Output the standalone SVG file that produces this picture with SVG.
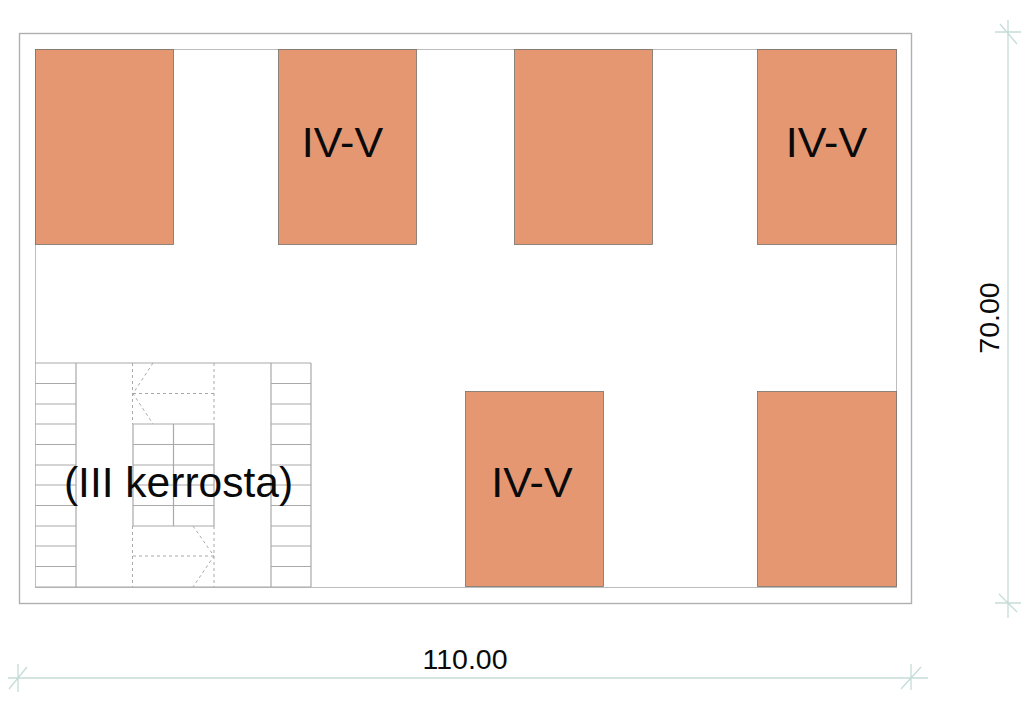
<svg xmlns="http://www.w3.org/2000/svg" width="1024" height="703" viewBox="0 0 1024 703">
<style>
.b{fill:#e59772;stroke:#77706a;stroke-width:.8}
.l{stroke:#a9a9a9;stroke-width:1.2;fill:none}
.d{stroke:#a9a9a9;stroke-width:1;fill:none;stroke-dasharray:3 3}
.m{stroke:#c5dcd8;stroke-width:1.3;fill:none}
.t{font-family:"Liberation Sans",Arial,sans-serif;fill:#0a0a0a}
.big{font-size:43px;text-anchor:middle}
.dim{font-size:28.500px;text-anchor:middle}
</style>
<rect width="1024" height="703" fill="#fff"/>
<g id="site"><rect x="19.500" y="33.500" width="892" height="570" fill="#fff" stroke="#b0b0b0" stroke-width="1.400"/></g>
<g id="inner"><rect x="35.500" y="49.500" width="861" height="538" fill="none" stroke="#bdbdbd" stroke-width="1"/></g>
<g id="b1"><rect class="b" x="35.500" y="49.500" width="138" height="195"/></g>
<g id="b2"><rect class="b" x="278.500" y="49.500" width="138" height="195"/><text class="t big" x="342.500" y="157">IV-V</text></g>
<g id="b3"><rect class="b" x="514.500" y="49.500" width="138" height="195"/></g>
<g id="b4"><rect class="b" x="757.500" y="49.500" width="139" height="195"/><text class="t big" x="826.500" y="157">IV-V</text></g>
<g id="b5"><rect class="b" x="465.500" y="391.500" width="138" height="195"/><text class="t big" x="532" y="497">IV-V</text></g>
<g id="b6"><rect class="b" x="757.500" y="391.500" width="139" height="195"/></g>
<g id="stairs">
<path class="l" d="M35 363H311M35 587H311M76 363V587M271 363V587M311 363V587M35 383.500H76M35 404H76M35 424H76M35 444.500H76M35 465H76M35 485H76M35 505.500H76M35 526H76M35 546H76M35 566.500H76M271 383.500H311M271 404H311M271 424H311M271 444.500H311M271 465H311M271 485H311M271 505.500H311M271 526H311M271 546H311M271 566.500H311M133 424H214M133 444.500H214M133 465H214M133 485H214M133 505.500H214M133 526H214M133 424V526M173.500 424V526M214 424V526"/>
<path class="d" d="M132.500 363V424M214 363V424M133 393.500H214M153 363L133 393.500L153 424M132.500 526V587M214 526V587M133 556H214M193 526L214 556L193 587"/>
<text class="t big" x="178.500" y="497" style="font-size:42.500px">(III kerrosta)</text>
</g>
<g id="dimensions">
<path class="m" d="M8 678H928M18 664V692M9 689L27 667M911 664V690M901 689L921 667M1008 20V618M995 32H1021M1000 24L1017 44M995 603H1021M999 594L1017 612"/>
<text class="t dim" x="465" y="669">110.00</text>
<text class="t dim" transform="translate(999 318) rotate(-90)">70.00</text>
</g>
</svg>
